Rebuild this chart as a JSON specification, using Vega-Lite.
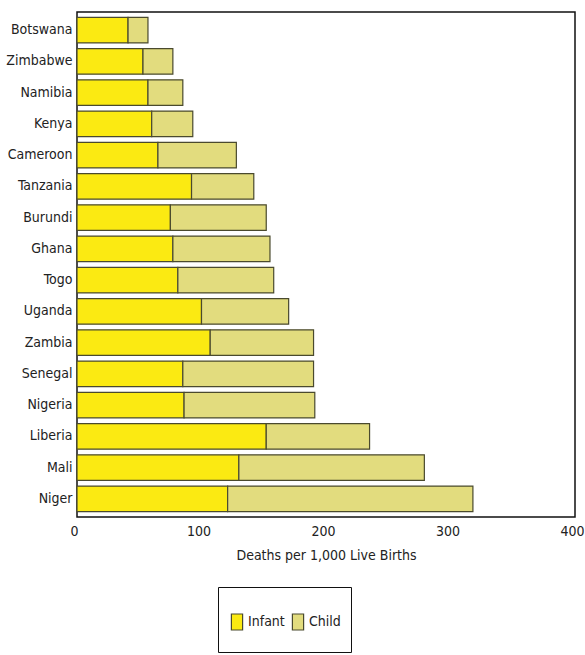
{
  "$schema": "https://vega.github.io/schema/vega-lite/v6.json",
  "autosize": "none",
  "padding": {"left": 77, "top": 12, "right": 10, "bottom": 138},
  "width": 498,
  "height": 505,
  "background": "white",
  "config": {
    "font": "'DejaVu Sans Condensed', 'Liberation Sans', sans-serif",
    "view": {"stroke": "#111111", "strokeWidth": 1.5},
    "axis": {"labelFont": "'DejaVu Sans Condensed', 'Liberation Sans', sans-serif", "titleFont": "'DejaVu Sans Condensed', 'Liberation Sans', sans-serif", "labelColor": "#222222", "titleColor": "#222222"}
  },
  "data": {
    "values": [
      {"country": "Botswana", "type": "Infant", "value": 41},
      {"country": "Botswana", "type": "Child", "value": 16},
      {"country": "Zimbabwe", "type": "Infant", "value": 53},
      {"country": "Zimbabwe", "type": "Child", "value": 24},
      {"country": "Namibia", "type": "Infant", "value": 57},
      {"country": "Namibia", "type": "Child", "value": 28},
      {"country": "Kenya", "type": "Infant", "value": 60},
      {"country": "Kenya", "type": "Child", "value": 33},
      {"country": "Cameroon", "type": "Infant", "value": 65},
      {"country": "Cameroon", "type": "Child", "value": 63},
      {"country": "Tanzania", "type": "Infant", "value": 92},
      {"country": "Tanzania", "type": "Child", "value": 50},
      {"country": "Burundi", "type": "Infant", "value": 75},
      {"country": "Burundi", "type": "Child", "value": 77},
      {"country": "Ghana", "type": "Infant", "value": 77},
      {"country": "Ghana", "type": "Child", "value": 78},
      {"country": "Togo", "type": "Infant", "value": 81},
      {"country": "Togo", "type": "Child", "value": 77},
      {"country": "Uganda", "type": "Infant", "value": 100},
      {"country": "Uganda", "type": "Child", "value": 70},
      {"country": "Zambia", "type": "Infant", "value": 107},
      {"country": "Zambia", "type": "Child", "value": 83},
      {"country": "Senegal", "type": "Infant", "value": 85},
      {"country": "Senegal", "type": "Child", "value": 105},
      {"country": "Nigeria", "type": "Infant", "value": 86},
      {"country": "Nigeria", "type": "Child", "value": 105},
      {"country": "Liberia", "type": "Infant", "value": 152},
      {"country": "Liberia", "type": "Child", "value": 83},
      {"country": "Mali", "type": "Infant", "value": 130},
      {"country": "Mali", "type": "Child", "value": 149},
      {"country": "Niger", "type": "Infant", "value": 121},
      {"country": "Niger", "type": "Child", "value": 197}
    ]
  },
  "mark": {"type": "bar", "stroke": "#4a4a2e", "strokeWidth": 1.2},
  "encoding": {
    "y": {
      "field": "country",
      "type": "nominal",
      "sort": null,
      "scale": {"paddingInner": 0.18, "paddingOuter": 0.17},
      "axis": {"title": null, "domain": false, "ticks": false, "labelFontSize": 14, "labelPadding": 5, "labelColor": "#222222"}
    },
    "x": {
      "field": "value",
      "type": "quantitative",
      "aggregate": "sum",
      "stack": "zero",
      "scale": {"domain": [0, 400], "nice": false},
      "axis": {"title": "Deaths per 1,000 Live Births", "values": [0, 100, 200, 300, 400], "grid": false, "domain": false, "ticks": false, "labelFontSize": 14, "titleFontSize": 14, "titleFontWeight": "normal", "labelPadding": 7, "titlePadding": 10, "labelFlush": false, "labelOffset": -3}
    },
    "color": {
      "field": "type",
      "type": "nominal",
      "scale": {"domain": ["Infant", "Child"], "range": ["#fbea12", "#e2dc7e"]},
      "legend": {
        "title": " ",
        "titleFontSize": 14,
        "titlePadding": 2,
        "orient": "none",
        "legendX": 141,
        "legendY": 575,
        "direction": "horizontal",
        "strokeColor": "#111111",
        "padding": 10,
        "labelFontSize": 14,
        "labelFont": "'DejaVu Sans Condensed', 'Liberation Sans', sans-serif",
        "labelColor": "#222222",
        "symbolType": "M-0.7,-1L0.7,-1L0.7,1L-0.7,1Z M0,2.2L0,2.2",
        "symbolSize": 256,
        "symbolStrokeColor": "#4a4a2e",
        "symbolStrokeWidth": 1.2,
        "symbolOpacity": 1,
        "labelOffset": 2,
        "columnPadding": 4
      }
    },
    "order": {"field": "type", "sort": "descending"}
  }
}
